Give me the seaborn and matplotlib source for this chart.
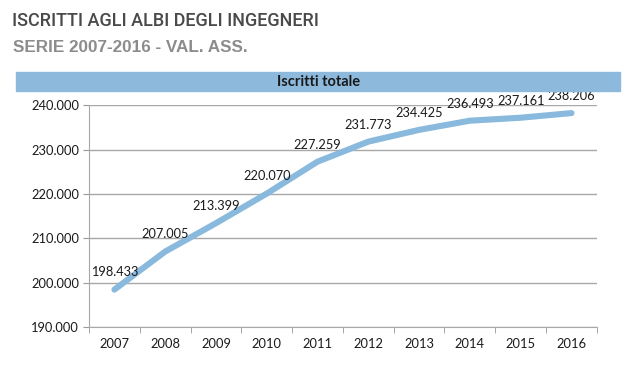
import matplotlib.pyplot as plt
import matplotlib.patches as mpatches
import seaborn as sns
import pandas as pd

years = ['2007', '2008', '2009', '2010', '2011', '2012', '2013', '2014', '2015', '2016']
iscritti = [198433, 207005, 213399, 220070, 227259, 231773, 234425, 236493, 237161, 238206]
y_ticks = [190000, 200000, 210000, 220000, 230000, 240000]

df = pd.DataFrame({'anno': years, 'iscritti': iscritti})

sns.set_style('white')
plt.rcParams['font.family'] = ['Lato', 'DejaVu Sans']

fig = plt.figure(figsize=(6.38, 3.65), dpi=100)
ax = fig.add_axes([0.1395, 0.104, 0.796, 0.608])

sns.lineplot(data=df, x='anno', y='iscritti', ax=ax, color='#8ab9de',
             linewidth=4.4, solid_capstyle='round', sort=False)

def fmt(v):
    return f'{v:,}'.replace(',', '.')

for i, v in enumerate(iscritti):
    ax.annotate(fmt(v), (i, v), xytext=(0, 8), textcoords='offset points',
                ha='center', va='bottom', fontsize=9.2, color='#1a1a1a')

ax.set_xlim(-0.5, len(years) - 0.5)
ax.set_ylim(190000, 240000)
ax.set_yticks(y_ticks)
ax.set_yticklabels([fmt(t) for t in y_ticks], fontsize=9.3, color='#1a1a1a')
ax.set_xticks(range(len(years)))
ax.set_xticklabels(years, fontsize=9.3, color='#1a1a1a')
ax.set_xticks([i - 0.5 for i in range(len(years) + 1)], minor=True)
ax.tick_params(axis='x', which='major', length=0, pad=8)
ax.tick_params(axis='x', which='minor', length=4, color='#9a9a9a', bottom=True)
ax.tick_params(axis='y', length=4, color='#9a9a9a', left=True, pad=3)
ax.set_xlabel('')
ax.set_ylabel('')
ax.grid(axis='y', color='#a8a8a8', linewidth=1)
for s in ['top', 'right']:
    ax.spines[s].set_visible(False)
ax.spines['left'].set_color('#a8a8a8')
ax.spines['bottom'].set_color('#a8a8a8')

# header band
fig.patches.append(mpatches.Rectangle((16 / 638, 1 - 91 / 365), 604 / 638, 19 / 365,
                                      transform=fig.transFigure, color='#8db9dc', zorder=0))
fig.text(0.5, 1 - 81.5 / 365, 'Iscritti totale', ha='center', va='center',
         fontsize=10.5, fontweight='bold', color='#1a1a1a')

fig.text(12 / 638, 1 - 21 / 365, 'ISCRITTI AGLI ALBI DEGLI INGEGNERI', ha='left', va='center',
         fontsize=13, fontweight='medium', color='#4a4a4a',
         family=['Roboto', 'DejaVu Sans'])
fig.text(13 / 638, 1 - 47 / 365, 'SERIE 2007-2016 - VAL. ASS.', ha='left', va='center',
         fontsize=12.3, fontweight='bold', color='#8c8c8c',
         family=['Liberation Sans', 'DejaVu Sans'])

fig.savefig('out.png', dpi=100)
